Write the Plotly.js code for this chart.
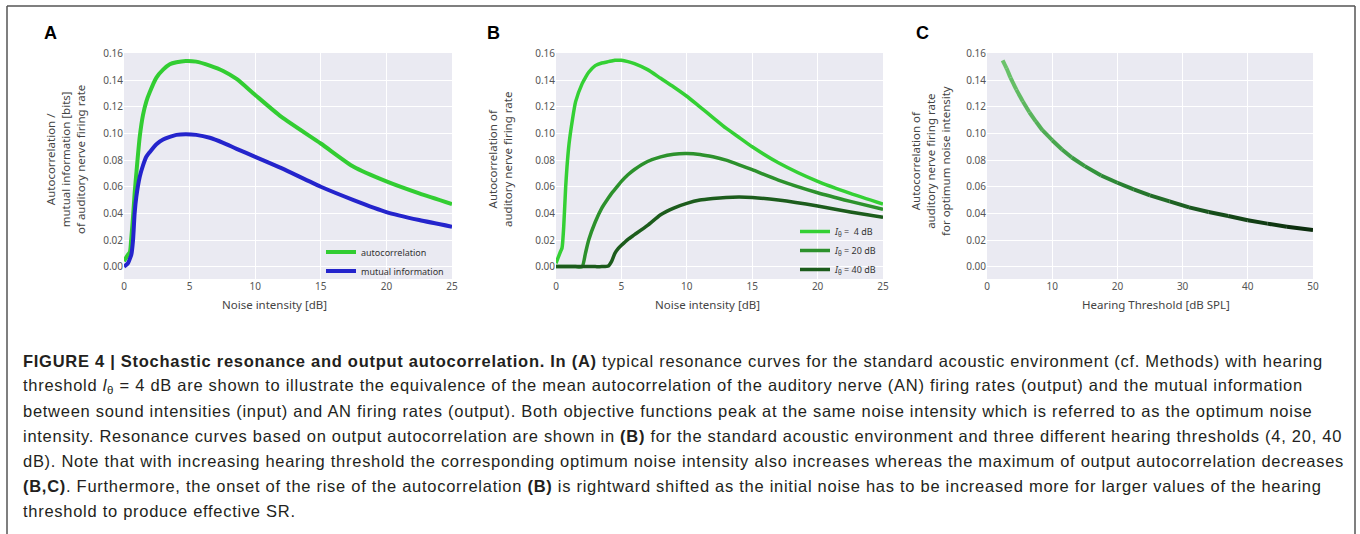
<!DOCTYPE html>
<html><head><meta charset="utf-8">
<script src="https://cdn.plot.ly/plotly-3.0.1.min.js"></script>
<style>
html,body{margin:0;padding:0;background:#fff;}
#chart{width:1360px;height:534px;}
#chart g.annotation text[style*="Helvetica"]{letter-spacing:0.72px;}
</style>
</head><body><div id="chart"></div>
<script>
// ---------- Data ----------
const noiseA = [0, 0.3, 0.45, 0.56, 0.69, 0.81, 0.94, 1.2, 1.45, 1.7, 1.96, 2.47, 2.98, 3.49, 4.0, 4.7, 5.5, 6.54, 7.56, 8.58, 10, 12, 15, 17.5, 20, 22.5, 25];
const autocorrA = [0.004, 0.009, 0.011, 0.022, 0.0375, 0.055, 0.07, 0.0975, 0.114, 0.124, 0.131, 0.142, 0.148, 0.152, 0.1535, 0.1545, 0.154, 0.151, 0.147, 0.141, 0.129, 0.1125, 0.0925, 0.075, 0.064, 0.055, 0.047];
const mutualInfoA = [0, 0.0025, 0.006, 0.009, 0.02, 0.04, 0.0525, 0.0675, 0.076, 0.0825, 0.086, 0.092, 0.0955, 0.0975, 0.099, 0.0995, 0.099, 0.0968, 0.093, 0.0885, 0.0825, 0.074, 0.06, 0.05, 0.041, 0.035, 0.03];
const legendNamesA = ['autocorrelation', 'mutual information'];

const noiseB = [0, 0.33, 0.46, 0.59, 0.74, 0.84, 1.0, 1.25, 1.5, 2.0, 2.25, 2.5, 3.0, 3.5, 4.0, 4.25, 4.5, 4.75, 5.0, 5.5, 6, 7, 8, 9, 10, 11, 12, 13, 14, 15, 17, 20, 22.5, 25];
const autocorrB4 = [0.0025, 0.011, 0.014, 0.03, 0.06, 0.075, 0.0925, 0.11, 0.124, 0.1375, 0.142, 0.146, 0.151, 0.153, 0.154, 0.1545, 0.155, 0.155, 0.155, 0.154, 0.1525, 0.148, 0.1415, 0.135, 0.128, 0.12, 0.112, 0.104, 0.097, 0.09, 0.078, 0.064, 0.055, 0.047];
const autocorrB20 = [0, 0, 0, 0, 0, 0, 0, 0, 0, 0, 0.01, 0.02, 0.0335, 0.044, 0.0515, 0.055, 0.058, 0.061, 0.064, 0.069, 0.073, 0.079, 0.0825, 0.0845, 0.085, 0.0843, 0.0825, 0.08, 0.0765, 0.0728, 0.065, 0.0555, 0.049, 0.043];
const autocorrB40 = [0, 0, 0, 0, 0, 0, 0, 0, 0, 0, 0, 0, 0, 0, 0.0005, 0.004, 0.01, 0.0135, 0.016, 0.0205, 0.024, 0.031, 0.039, 0.044, 0.0475, 0.05, 0.0512, 0.052, 0.0523, 0.052, 0.05, 0.0455, 0.041, 0.037];
const legendNamesB = ['<i>I</i><sub>θ</sub> =  4 dB', '<i>I</i><sub>θ</sub> = 20 dB', '<i>I</i><sub>θ</sub> = 40 dB'];

const thresholdC = [2.4, 3.0, 3.6, 4.5, 5.5, 6.5, 7.5, 8.5, 10, 11.5, 13, 15, 17.5, 20, 22.5, 25, 28, 31, 34, 37, 40, 43, 46, 50];
const autocorrOptC = [0.155, 0.149, 0.142, 0.133, 0.124, 0.116, 0.109, 0.1025, 0.095, 0.088, 0.082, 0.0755, 0.0685, 0.063, 0.058, 0.0535, 0.049, 0.0445, 0.041, 0.038, 0.0348, 0.0323, 0.030, 0.0275];

const xTicksAB = [0, 5, 10, 15, 20, 25];
const xTicksC = [0, 10, 20, 30, 40, 50];
const yTicks = [0, 0.02, 0.04, 0.06, 0.08, 0.10, 0.12, 0.14, 0.16];

const captionLines = [
  '<b>FIGURE 4 | Stochastic resonance and output autocorrelation. In (A)</b> typical resonance curves for the standard acoustic environment (cf. Methods) with hearing',
  'threshold <i>l</i><sub>θ</sub> = 4 dB are shown to illustrate the equivalence of the mean autocorrelation of the auditory nerve (AN) firing rates (output) and the mutual information',
  'between sound intensities (input) and AN firing rates (output). Both objective functions peak at the same noise intensity which is referred to as the optimum noise',
  'intensity. Resonance curves based on output autocorrelation are shown in <b>(B)</b> for the standard acoustic environment and three different hearing thresholds (4, 20, 40',
  'dB). Note that with increasing hearing threshold the corresponding optimum noise intensity also increases whereas the maximum of output autocorrelation decreases',
  '<b>(B,C)</b>. Furthermore, the onset of the rise of the autocorrelation <b>(B)</b> is rightward shifted as the initial noise has to be increased more for larger values of the hearing',
  'threshold to produce effective SR.'
];

// ---------- Layout helpers ----------
const W = 1360, H = 534;
const px = v => v / W;
const py = v => 1 - v / H;
const FONT = 'Noto Sans, Open Sans, sans-serif';
const yDom = [py(279), py(53)];

const traces = [];
const greenA = 'rgb(50,205,50)', blueA = 'rgb(36,36,204)';
traces.push({x: noiseA, y: autocorrA, xaxis: 'x', yaxis: 'y', mode: 'lines', name: legendNamesA[0],
  line: {color: greenA, width: 4, shape: 'spline', smoothing: 0.6}, legend: 'legend'});
traces.push({x: noiseA, y: mutualInfoA, xaxis: 'x', yaxis: 'y', mode: 'lines', name: legendNamesA[1],
  line: {color: blueA, width: 4, shape: 'spline', smoothing: 0.6}, legend: 'legend'});

const colorsB = ['rgb(52,208,52)', 'rgb(44,145,44)', 'rgb(28,92,28)'];
[autocorrB4, autocorrB20, autocorrB40].forEach((ys, i) => {
  traces.push({x: noiseB, y: ys, xaxis: 'x2', yaxis: 'y2', mode: 'lines', name: legendNamesB[i],
    line: {color: colorsB[i], width: 3.5, shape: 'spline', smoothing: 0.6}, legend: 'legend2'});
});

// Panel C: colour gradient along the curve (one short segment per pair of read points)
const stops = [[0, [108, 196, 108]], [0.3, [48, 145, 58]], [0.65, [24, 82, 28]], [1, [10, 40, 12]]];
function gradColor(t) {
  for (let k = 0; k < stops.length - 1; k++) {
    const [t0, c0] = stops[k], [t1, c1] = stops[k + 1];
    if (t <= t1) {
      const f = (t - t0) / (t1 - t0);
      return 'rgb(' + c0.map((c, j) => Math.round(c + (c1[j] - c) * f)).join(',') + ')';
    }
  }
  return 'rgb(10,40,12)';
}
const cMin = thresholdC[0], cMax = thresholdC[thresholdC.length - 1];
for (let i = 0; i < thresholdC.length - 1; i++) {
  const t = ((thresholdC[i] + thresholdC[i + 1]) / 2 - cMin) / (cMax - cMin);
  traces.push({x: thresholdC.slice(i, i + 2), y: autocorrOptC.slice(i, i + 2), xaxis: 'x3', yaxis: 'y3',
    mode: 'lines', showlegend: false, line: {color: gradColor(t), width: 4}});
}

const axBase = {showgrid: true, gridcolor: '#ffffff', gridwidth: 1, zeroline: false, showline: false,
  ticks: '', tickfont: {family: FONT, size: 10, color: '#555'}, fixedrange: true, ticklabeloverflow: 'allow'};
const yAx = Object.assign({}, axBase, {range: [-0.0093, 0.1605], tickvals: yTicks, tickformat: '.2f', domain: yDom});

const layout = {
  width: W, height: H, margin: {l: 0, r: 0, t: 0, b: 0},
  paper_bgcolor: '#ffffff', plot_bgcolor: '#eaeaf2',
  xaxis: Object.assign({}, axBase, {domain: [px(124), px(452)], range: [0, 25], tickvals: xTicksAB, anchor: 'y'}),
  yaxis: Object.assign({}, yAx, {anchor: 'x'}),
  xaxis2: Object.assign({}, axBase, {domain: [px(556), px(883)], range: [0, 25], tickvals: xTicksAB, anchor: 'y2'}),
  yaxis2: Object.assign({}, yAx, {anchor: 'x2'}),
  xaxis3: Object.assign({}, axBase, {domain: [px(987), px(1313)], range: [0, 50], tickvals: xTicksC, ticktext: xTicksC.map(String), anchor: 'y3'}),
  yaxis3: Object.assign({}, yAx, {anchor: 'x3'}),
  legend: {x: px(449), xanchor: 'right', y: py(285.5), yanchor: 'bottom', bgcolor: 'rgba(0,0,0,0)',
    font: {family: FONT, size: 9, color: '#333'}, tracegroupgap: 0},
  legend2: {x: px(882), xanchor: 'right', y: py(284), yanchor: 'bottom', bgcolor: 'rgba(0,0,0,0)',
    font: {family: FONT, size: 9, color: '#333'}, tracegroupgap: 0},
  showlegend: true,
  shapes: [
    {type: 'line', xref: 'paper', yref: 'paper', x0: px(7), x1: px(1355), y0: py(6), y1: py(6), line: {color: '#555', width: 1.5}},
    {type: 'line', xref: 'paper', yref: 'paper', x0: px(7), x1: px(7), y0: py(6), y1: 0, line: {color: '#555', width: 1.5}},
    {type: 'line', xref: 'paper', yref: 'paper', x0: px(1355), x1: px(1355), y0: py(6), y1: 0, line: {color: '#555', width: 1.5}}
  ],
  annotations: []
};

const ann = (text, x, y, opts) => Object.assign({text, x: px(x), y: py(y), xref: 'paper', yref: 'paper',
  showarrow: false, xanchor: 'center', yanchor: 'middle'}, opts || {});

// Panel letters
[['A', 50], ['B', 493], ['C', 922]].forEach(([t, x]) => layout.annotations.push(
  ann('<b>' + t + '</b>', x, 33, {font: {family: 'Liberation Sans, Arial, sans-serif', size: 18, color: '#000'}})));

// Axis titles
const titleFont = {family: FONT, size: 11.5, color: '#444'};
layout.annotations.push(ann('Noise intensity [dB]', 274, 304, {font: titleFont}));
layout.annotations.push(ann('Noise intensity [dB]', 707, 304, {font: titleFont}));
layout.annotations.push(ann('Hearing Threshold [dB SPL]', 1156, 304, {font: titleFont}));
layout.annotations.push(ann('Autocorrelation /<br>mutual information [bits]<br>of auditory nerve firing rate', 65, 160, {font: titleFont, textangle: -90}));
layout.annotations.push(ann('Autocorrelation of<br>auditory nerve firing rate', 500, 160, {font: titleFont, textangle: -90}));
layout.annotations.push(ann('Autocorrelation of<br>auditory nerve firing rate<br>for optimum noise intensity', 931, 161, {font: titleFont, textangle: -90}));

// Caption (left-aligned text anchor so the extra letter spacing grows to the right)
captionLines.forEach((line, i) => layout.annotations.push(
  ann(line, 21, 361 + i * 25, {xanchor: 'left', align: 'left',
    font: {family: 'Liberation Sans, Helvetica, Arial, sans-serif', size: 16.5, color: '#231f20'}})));

Plotly.newPlot('chart', traces, layout, {displayModeBar: false, staticPlot: true});
</script>
</body></html>
